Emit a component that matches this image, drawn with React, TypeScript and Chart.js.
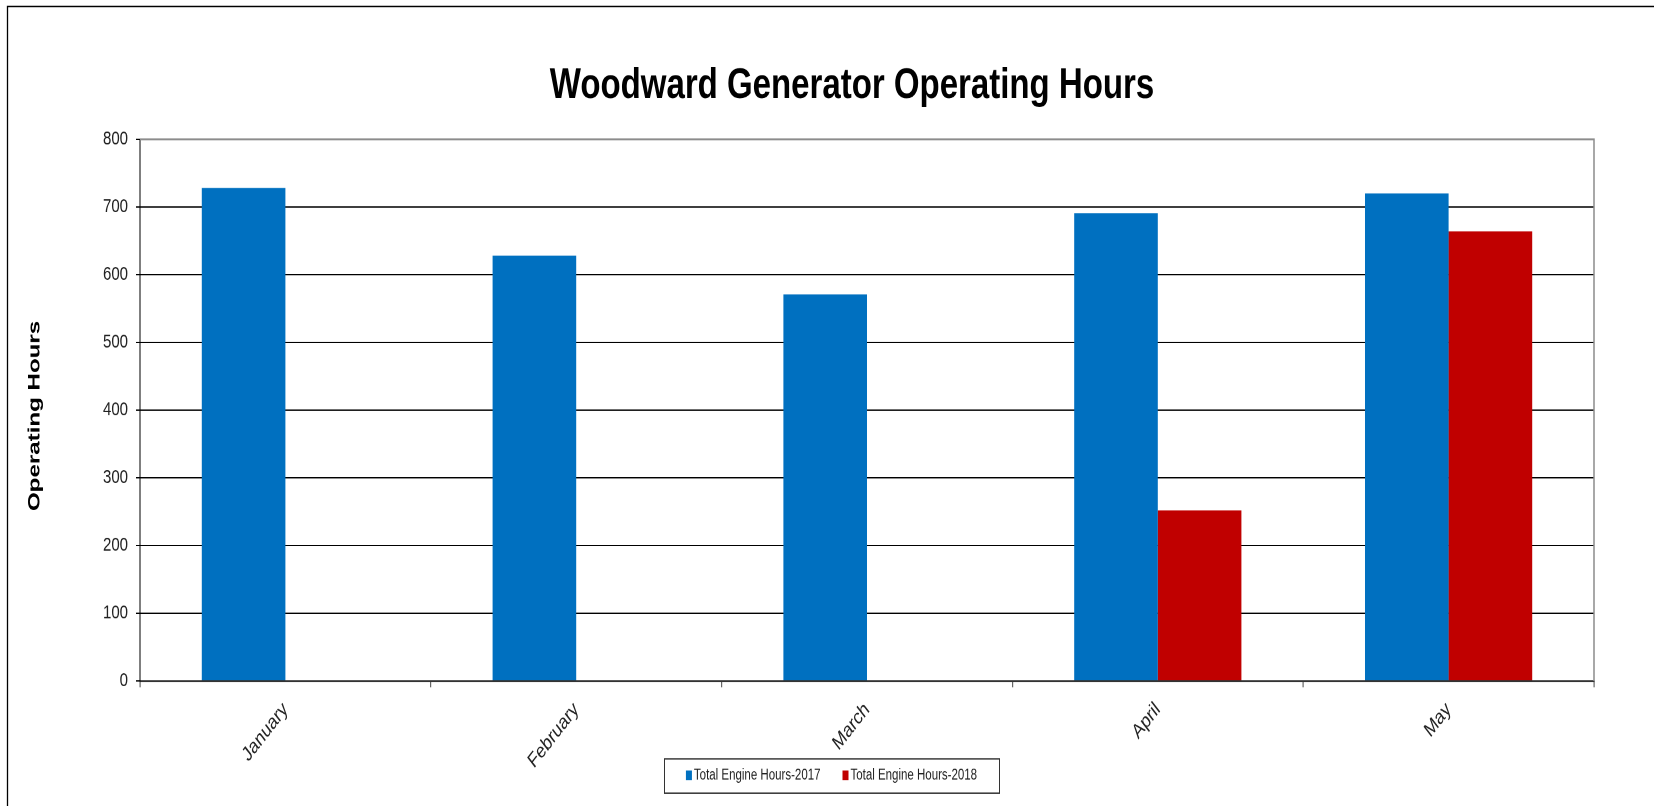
import React, { useEffect, useRef } from 'react';
import { Chart, registerables } from 'chart.js';

Chart.register(...registerables);

const months = ['January', 'February', 'March', 'April', 'May'];
const hours2017 = [728, 628, 571, 691, 720];
const hours2018: (number | null)[] = [null, null, null, 252, 664];
const seriesLabels = ['Total Engine Hours-2017', 'Total Engine Hours-2018'];
const seriesColors = ['#0070C0', '#C00000'];
const yMin = 0;
const yMax = 800;
const yStep = 100;
const chartTitle = 'Woodward Generator Operating Hours';
const yAxisTitle = 'Operating Hours';

const W = 1654;
const H = 806;
const STRETCH = 1.29;
const LH = Math.round(H / STRETCH);
const FONT = '"Liberation Sans", Arial, sans-serif';

const decor = {
  id: 'decor',
  beforeDraw(chart: any) {
    const { ctx } = chart;
    ctx.save();
    ctx.fillStyle = '#fff';
    ctx.fillRect(0, 0, chart.width, chart.height);
    ctx.restore();
  },
  afterDraw(chart: any) {
    const { ctx, chartArea: a } = chart;
    ctx.save();
    // outer frame
    ctx.strokeStyle = '#000';
    ctx.lineWidth = 1.3;
    ctx.beginPath();
    ctx.moveTo(7.5, chart.height);
    ctx.lineTo(7.5, 5);
    ctx.lineTo(chart.width, 5);
    ctx.stroke();
    // plot border (top / right)
    ctx.strokeStyle = '#8c8c8c';
    ctx.lineWidth = 1.5;
    ctx.beginPath();
    ctx.moveTo(a.left, a.top);
    ctx.lineTo(a.right, a.top);
    ctx.lineTo(a.right, a.bottom);
    ctx.stroke();
    // title
    ctx.fillStyle = '#000';
    ctx.font = `bold 33px ${FONT}`;
    ctx.textAlign = 'center';
    ctx.textBaseline = 'middle';
    ctx.fillText(chartTitle, 852, 67);
    // y axis title
    ctx.save();
    ctx.translate(35, (a.top + a.bottom) / 2 + 4.5);
    ctx.rotate(-Math.PI / 2);
    ctx.scale(1.1, 1);
    ctx.font = `bold 17px ${FONT}`;
    ctx.fillText(yAxisTitle, 0, 0);
    ctx.restore();
    // legend
    ctx.font = `11.5px ${FONT}`;
    ctx.textAlign = 'left';
    const sq = 6;
    const gap = 2;
    const itemGap = 22;
    const widths = chart.data.datasets.map((d: any) => ctx.measureText(d.label).width);
    const content = widths.reduce((s: number, w: number) => s + sq + gap + w, 0) + itemGap * (widths.length - 1);
    const padX = 22;
    const boxW = content + padX * 2;
    const boxL = 831.5 - boxW / 2;
    const boxT = 588;
    const boxH = 26.5;
    ctx.strokeStyle = '#333';
    ctx.lineWidth = 1;
    ctx.strokeRect(Math.round(boxL) + 0.5, boxT + 0.5, Math.round(boxW), boxH);
    let x = boxL + padX;
    const cy = boxT + boxH / 2;
    chart.data.datasets.forEach((d: any, i: number) => {
      ctx.fillStyle = d.backgroundColor;
      ctx.fillRect(x, cy - 3.8, sq, 7.6);
      x += sq + gap;
      ctx.fillStyle = '#222';
      ctx.fillText(d.label, x, cy);
      x += widths[i] + itemGap;
    });
    ctx.restore();
  },
};

export default function App() {
  const ref = useRef<HTMLCanvasElement>(null);
  useEffect(() => {
    document.body.style.margin = '0';
    const canvas = ref.current!;
    const chart = new Chart(canvas, {
      type: 'bar',
      data: {
        labels: months,
        datasets: [
          { label: seriesLabels[0], data: hours2017, backgroundColor: seriesColors[0], borderWidth: 0 },
          { label: seriesLabels[1], data: hours2018, backgroundColor: seriesColors[1], borderWidth: 0 },
        ],
      },
      options: {
        responsive: false,
        animation: false,
        devicePixelRatio: 2,
        layout: { padding: { top: 108, right: 60, left: 0, bottom: 0 } },
        datasets: { bar: { categoryPercentage: 0.575, barPercentage: 1 } },
        plugins: {
          legend: { display: false },
          title: { display: false },
          tooltip: { enabled: false },
        },
        scales: {
          x: {
            afterFit: (s: any) => { s.height = LH - 528; },
            grid: { offset: true, drawOnChartArea: false, drawTicks: true, tickLength: 5, color: '#666', lineWidth: 1.2 },
            border: { color: '#333', width: 1.5 },
            ticks: {
              maxRotation: 45,
              minRotation: 45,
              autoSkip: false,
              padding: 8,
              color: '#222',
              font: { family: FONT, size: 16 },
            },
          },
          y: {
            min: yMin,
            max: yMax,
            afterFit: (s: any) => { s.width = 140; },
            ticks: { stepSize: yStep, padding: 8, color: '#222', font: { family: FONT, size: 15 } },
            grid: {
              color: (c: any) => (c.tick && c.tick.value === yMax ? '#8c8c8c' : '#000'),
              tickColor: '#000',
              tickLength: 4,
              lineWidth: 1,
            },
            border: { color: '#000', width: 1 },
          },
        },
      },
      plugins: [decor],
    });
    return () => chart.destroy();
  }, []);
  return (
    <div style={{ position: 'absolute', left: 0, top: 0, width: W, height: H, background: '#fff' }}>
      <canvas ref={ref} width={W} height={LH} style={{ width: `${W}px`, height: `${H}px`, display: 'block' }} />
    </div>
  );
}
